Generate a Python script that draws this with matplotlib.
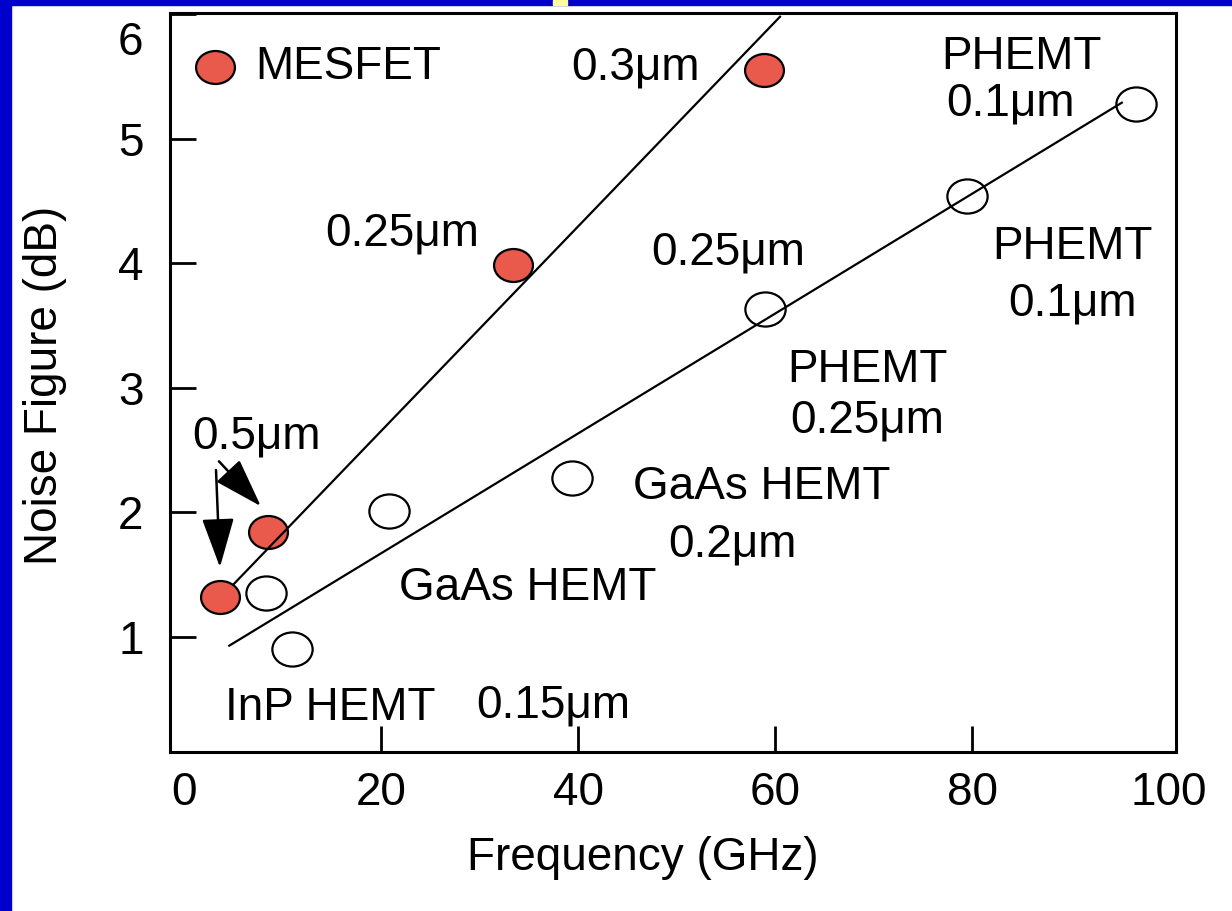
import matplotlib
matplotlib.use("Agg")
import matplotlib.pyplot as plt
from matplotlib.path import Path
from matplotlib.transforms import Affine2D, ScaledTranslation
from matplotlib.patches import Rectangle

# ---------------- data ----------------
mesfet_freq = [3.65, 8.5, 33.4, 58.9]
mesfet_nf = [1.32, 1.84, 3.99, 5.55]

hemt_freq = [8.3, 11.0, 20.8, 39.4, 59.0, 79.5, 96.6]
hemt_nf = [1.35, 0.90, 2.01, 2.28, 3.63, 4.54, 5.28]

mesfet_fit_x = [5.0, 60.5]
mesfet_fit_y = [1.42, 5.98]
hemt_fit_x = [4.6, 95.2]
hemt_fit_y = [0.93, 5.29]

x_ticks = [0, 20, 40, 60, 80, 100]
y_ticks = [1, 2, 3, 4, 5, 6]

# ---------------- style ----------------
plt.rcParams['font.family'] = ['Liberation Sans', 'DejaVu Sans']
RED = '#E95A4C'
FS = 33

fig = plt.figure(figsize=(12.32, 9.11), dpi=100)
fig.patch.set_facecolor('white')
W, H = 1232, 911
ax = fig.add_axes([170 / W, 1 - 752 / H, (1176 - 170) / W, (752 - 13) / H])

# frame decorations (slide border)
fig.add_artist(Rectangle((0, 0), 11 / W, 1, transform=fig.transFigure,
                         color='#0000CC', zorder=0))
fig.add_artist(Rectangle((0, 1 - 5 / H), 1, 5 / H, transform=fig.transFigure,
                         color='#0000CC', zorder=0))
fig.add_artist(Rectangle((553 / W, 1 - 5 / H), 14 / W, 5 / H,
                         transform=fig.transFigure, color='#FFFF99', zorder=1))

ell = Path.unit_circle().transformed(Affine2D().scale(1.18, 1.0))

ax.plot(mesfet_freq, mesfet_nf, linestyle='none', marker=ell, markersize=28,
        markerfacecolor=RED, markeredgecolor='black', markeredgewidth=1.6,
        zorder=3, clip_on=False)
ax.plot(hemt_freq, hemt_nf, linestyle='none', marker=ell, markersize=29,
        markerfacecolor='white', markeredgecolor='black', markeredgewidth=1.6,
        zorder=3, clip_on=False)

ax.plot(mesfet_fit_x, mesfet_fit_y, color='black', lw=1.6, zorder=4)
ax.plot(hemt_fit_x, hemt_fit_y, color='black', lw=1.6, zorder=4)

# legend-like key
ax.plot([3.15], [5.58], linestyle='none', marker=ell, markersize=28,
        markerfacecolor=RED, markeredgecolor='black', markeredgewidth=1.6, zorder=3)
ax.text(7.2, 5.58, 'MESFET', fontsize=FS, ha='left', va='center')

labels = [
    ('0.3\u03bcm', 45.8, 5.57),
    ('PHEMT', 85.0, 5.66),
    ('0.1\u03bcm', 83.9, 5.28),
    ('0.25\u03bcm', 22.2, 4.24),
    ('0.25\u03bcm', 55.2, 4.09),
    ('PHEMT', 90.2, 4.13),
    ('0.1\u03bcm', 90.2, 3.68),
    ('PHEMT', 69.4, 3.14),
    ('0.25\u03bcm', 69.4, 2.74),
    ('0.5\u03bcm', 7.4, 2.61),
    ('GaAs HEMT', 58.6, 2.20),
    ('0.2\u03bcm', 55.7, 1.74),
    ('GaAs HEMT', 34.9, 1.39),
    ('InP HEMT', 14.8, 0.43),
    ('0.15\u03bcm', 37.5, 0.45),
]
for s, x, y in labels:
    ax.text(x, y, s, fontsize=FS, ha='center', va='center', zorder=5)

arrow_kw = dict(arrowstyle='-|>,head_length=1.1,head_width=0.36', color='black',
                lw=1.8, shrinkA=0, shrinkB=0, mutation_scale=28)
ax.annotate('', xy=(3.65, 1.56), xytext=(3.25, 2.34), arrowprops=arrow_kw)
ax.annotate('', xy=(7.8, 2.05), xytext=(3.55, 2.41), arrowprops=arrow_kw)

ax.set_xlim(-1.42, 100.7)
ax.set_ylim(0.076, 6.01)
ax.set_xticks(x_ticks)
ax.set_yticks(y_ticks)
ax.set_xticklabels([str(v) for v in x_ticks])
ax.set_yticklabels([str(v) for v in y_ticks])
ax.tick_params(axis='both', direction='in', length=19, width=2, labelsize=FS)
ax.tick_params(axis='x', pad=14)
ax.tick_params(axis='y', pad=19)
xt = ax.xaxis.get_major_ticks()
xt[0].tick1line.set_visible(False)
xt[-1].tick1line.set_visible(False)

# the top "6" label sits a little below the frame line
top_lbl = ax.get_yticklabels()[-1]
top_lbl.set_transform(top_lbl.get_transform() +
                      ScaledTranslation(0, -0.24, fig.dpi_scale_trans))

for sp in ax.spines.values():
    sp.set_linewidth(2.2)

ax.set_xlabel('Frequency (GHz)', fontsize=FS, va='center')
ax.xaxis.set_label_coords((643 - 170) / 1006, (752 - 858) / 739)
ax.set_ylabel('Noise Figure (dB)', fontsize=FS, va='center')
ax.yaxis.set_label_coords((45 - 170) / 1006, (752 - 385) / 739)

fig.savefig('out.png', dpi=100)
